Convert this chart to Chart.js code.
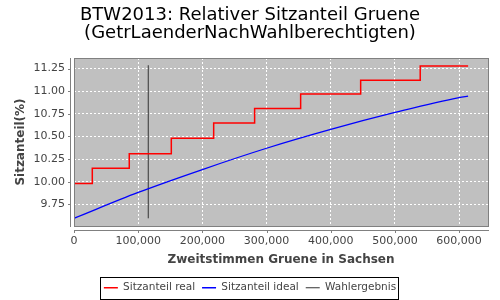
<!DOCTYPE html>
<html>
<head>
<meta charset="utf-8">
<script src="https://cdn.jsdelivr.net/npm/chart.js@4"></script>
<style>
  body { margin: 0; background: #fff; }
  #wrap { width: 500px; height: 300px; }
</style>
</head>
<body>
<div id="wrap"><canvas id="myChart" width="500" height="300"></canvas></div>
<script>
// Sitzanteil real (Stufen)
const realX = [0, 28500, 86100, 151600, 217600, 281400, 353100, 446600, 539400, 614000];
const realY = [9.98, 10.15, 10.31, 10.48, 10.65, 10.81, 10.97, 11.12, 11.28, 11.28];
// Sitzanteil ideal
const idealX = [0, 100000, 200000, 300000, 400000, 500000, 600000, 614000];
const idealY = [9.596, 9.882, 10.135, 10.37, 10.578, 10.765, 10.93, 10.945];
// Wahlergebnis
const wahlX = [115700, 115700];
const wahlY = [9.596, 11.287];

const xTicks = [0, 100000, 200000, 300000, 400000, 500000, 600000];
const yTicks = [9.75, 10.00, 10.25, 10.50, 10.75, 11.00, 11.25];

const toPoints = (xs, ys) => xs.map((x, i) => ({ x: x, y: ys[i] }));

const plotDeco = {
    id: 'plotDeco',
    beforeDraw(chart) {
        const a = chart.chartArea, ctx = chart.ctx;
        ctx.save();
        ctx.fillStyle = '#c0c0c0';
        ctx.fillRect(a.left, a.top, a.right - a.left, a.bottom - a.top);
        ctx.restore();
    },
    afterDraw(chart) {
        const a = chart.chartArea, ctx = chart.ctx;
        const xs = chart.scales.x, ys = chart.scales.y;
        ctx.save();
        ctx.strokeStyle = '#808080';
        ctx.lineWidth = 1;
        ctx.strokeRect(a.left + 0.5, a.top + 0.5, a.right - a.left, a.bottom - a.top);
        // versetzte Achsenlinien
        ctx.beginPath();
        ctx.moveTo(a.left - 3.5, a.top);
        ctx.lineTo(a.left - 3.5, a.bottom + 1);
        ctx.moveTo(a.left, a.bottom + 4.5);
        ctx.lineTo(a.right + 1, a.bottom + 4.5);
        xTicks.forEach(v => {
            const px = Math.round(xs.getPixelForValue(v)) + 0.5;
            ctx.moveTo(px, a.bottom + 4);
            ctx.lineTo(px, a.bottom + 7);
        });
        yTicks.forEach(v => {
            const py = Math.round(ys.getPixelForValue(v)) + 0.5;
            ctx.moveTo(a.left - 3, py);
            ctx.lineTo(a.left - 6, py);
        });
        ctx.stroke();
        // Rahmen um die Legende
        const boxes = chart.legend.legendHitBoxes;
        if (boxes && boxes.length) {
            let l = Infinity, r = -Infinity, t = Infinity, b = -Infinity;
            boxes.forEach(h => {
                l = Math.min(l, h.left); r = Math.max(r, h.left + h.width);
                t = Math.min(t, h.top); b = Math.max(b, h.top + h.height);
            });
            ctx.strokeStyle = '#000';
            ctx.strokeRect(Math.round(l) - 3.5, Math.round(t) - 5.5, Math.round(r - l) + 6, Math.round(b - t) + 11);
        }
        ctx.restore();
    }
};

const ctx = document.getElementById('myChart').getContext('2d');
new Chart(ctx, {
    type: 'line',
    data: {
        datasets: [{
            label: 'Sitzanteil real',
            data: toPoints(realX, realY),
            borderColor: '#ff0000',
            borderWidth: 1.5,
            stepped: 'before',
            pointRadius: 0
        }, {
            label: 'Sitzanteil ideal',
            data: toPoints(idealX, idealY),
            borderColor: '#0000ff',
            borderWidth: 1.3,
            cubicInterpolationMode: 'monotone',
            pointRadius: 0
        }, {
            label: 'Wahlergebnis',
            data: toPoints(wahlX, wahlY),
            borderColor: '#333333',
            borderWidth: 1,
            pointRadius: 0
        }]
    },
    options: {
        responsive: false,
        animation: false,
        layout: { padding: { left: 0, right: 0, top: 0, bottom: -3 } },
        plugins: {
            title: {
                display: true,
                text: ['BTW2013: Relativer Sitzanteil Gruene', '(GetrLaenderNachWahlberechtigten)'],
                color: '#000',
                font: { family: 'DejaVu Sans', size: 18, weight: 'normal', lineHeight: 1.0 },
                padding: { top: 6, bottom: 16 }
            },
            legend: {
                position: 'bottom',
                labels: {
                    color: '#444',
                    font: { family: 'DejaVu Sans', size: 10.5 },
                    usePointStyle: true,
                    pointStyle: 'line',
                    pointStyleWidth: 14,
                    padding: 7
                }
            },
            tooltip: { enabled: false }
        },
        scales: {
            x: {
                type: 'linear',
                min: 0,
                max: 645000,
                afterBuildTicks: s => { s.ticks = xTicks.map(v => ({ value: v })); },
                afterFit: s => { s.height = 49.5; },
                ticks: {
                    color: '#444',
                    font: { family: 'DejaVu Sans', size: 11 },
                    padding: 9,
                    maxRotation: 0,
                    callback: v => v.toLocaleString('en-US')
                },
                grid: { color: '#ffffff', drawTicks: false },
                border: { display: false, dash: [2, 2] },
                title: {
                    display: true,
                    text: 'Zweitstimmen Gruene in Sachsen',
                    color: '#444',
                    font: { family: 'DejaVu Sans', size: 12, weight: 'bold' },
                    padding: { top: 4, bottom: 8.3 }
                }
            },
            y: {
                type: 'linear',
                min: 9.511,
                max: 11.367,
                afterBuildTicks: s => { s.ticks = yTicks.map(v => ({ value: v })); },
                afterFit: s => { s.width = 74; },
                ticks: {
                    color: '#444',
                    font: { family: 'DejaVu Sans', size: 11 },
                    padding: 9,
                    callback: v => v.toFixed(2)
                },
                grid: { color: '#ffffff', drawTicks: false },
                border: { display: false, dash: [2, 2] },
                title: {
                    display: true,
                    text: 'Sitzanteil(%)',
                    color: '#444',
                    font: { family: 'DejaVu Sans', size: 12, weight: 'bold' },
                    padding: { top: 13.8, bottom: 2 }
                }
            },
            // leerer Rand rechts, damit Titel und Legende über die ganze Breite zentriert sind
            yRand: {
                type: 'linear',
                position: 'right',
                afterFit: s => { s.width = 12; },
                ticks: { display: false },
                grid: { display: false, drawTicks: false },
                border: { display: false }
            }
        }
    },
    plugins: [plotDeco]
});
</script>
</body>
</html>
